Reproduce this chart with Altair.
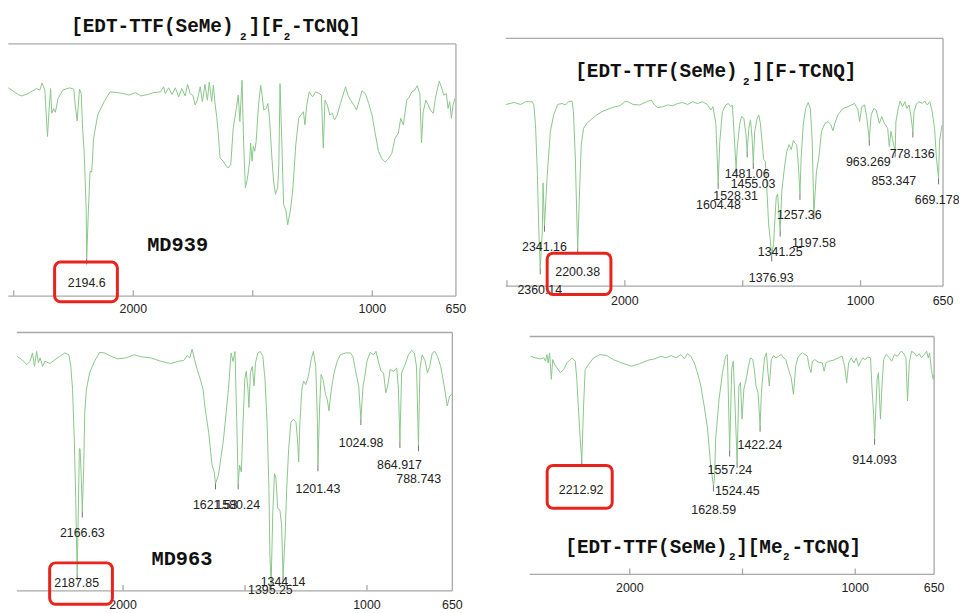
import altair as alt
import pandas as pd

GREEN = "#8ac68a"
FRAME = "#a8a8a8"
TEXT = "#222222"
RED = "#e8231c"
MARK = "#707070"

# ---------------- Panel 1 : [EDT-TTF(SeMe)2][F2-TCNQ]  (MD939)
P1_WN = [2523, 2481, 2467, 2440, 2405, 2391, 2382, 2370, 2359, 2353,
         2346, 2341, 2333, 2326, 2315, 2295, 2267, 2249, 2243, 2235,
         2225, 2218, 2212, 2205, 2197, 2195, 2188, 2181, 2174, 2166,
         2149, 2122, 2097, 2066, 2039, 2018, 1990, 1969, 1942, 1914,
         1886, 1873, 1866, 1852, 1838, 1824, 1810, 1797, 1783, 1773,
         1762, 1751, 1741, 1732, 1720, 1711, 1700, 1690, 1682, 1672,
         1665, 1658, 1651, 1644, 1637, 1624, 1610, 1603, 1592, 1582,
         1569, 1561, 1554, 1545, 1538, 1531, 1523, 1513, 1509, 1503,
         1498, 1492, 1486, 1476, 1467, 1461, 1454, 1444, 1437, 1430,
         1420, 1413, 1405, 1396, 1391, 1386, 1379, 1371, 1361, 1354,
         1343, 1333, 1320, 1308, 1299, 1288, 1282, 1274, 1264, 1250,
         1237, 1222, 1213, 1205, 1198, 1188, 1178, 1167, 1158, 1147,
         1133, 1112, 1102, 1091, 1077, 1066, 1056, 1043, 1029, 1015,
         1001, 988, 974, 960, 946, 932, 918, 905, 891, 881,
         870, 856, 845, 835, 822, 812, 801, 794, 787, 776,
         766, 757, 745, 735, 720, 711, 701, 690, 683, 676,
         669, 662, 654]
P1_T = [82.6, 79.9, 79.4, 80.3, 82.3, 81.7, 84.5, 81.7, 63.3, 73.1,
        82.3, 72.5, 74.4, 72.9, 78.4, 81.7, 82.6, 82.1, 75.8, 69.5,
        82.1, 80.3, 66.6, 56.1, 33.8, 14.9, 33.8, 49.5, 49.2, 62.6,
        71.8, 77.1, 81.0, 80.7, 80.3, 79.7, 80.7, 79.4, 79.9, 80.7,
        81.0, 83.0, 80.3, 82.6, 79.9, 82.6, 79.0, 82.3, 79.4, 83.9,
        80.3, 79.7, 75.8, 77.7, 83.0, 77.1, 83.9, 77.7, 84.9, 77.1,
        83.6, 76.4, 71.2, 64.0, 54.8, 53.5, 51.5, 50.8, 52.2, 66.6,
        74.4, 79.7, 69.2, 85.6, 60.0, 43.0, 46.3, 53.5, 60.7, 53.5,
        59.4, 57.4, 61.3, 75.8, 83.6, 79.7, 73.8, 74.4, 76.4, 70.5,
        54.8, 45.6, 40.4, 43.0, 52.2, 84.3, 62.6, 36.4, 33.8, 28.3,
        33.8, 41.7, 60.0, 70.5, 71.8, 73.1, 67.9, 75.8, 81.0, 79.0,
        81.0, 80.3, 79.7, 58.7, 77.7, 75.8, 71.8, 72.5, 69.9, 71.8,
        76.4, 83.0, 79.7, 77.7, 75.8, 73.8, 77.1, 81.4, 80.3, 76.4,
        71.8, 64.6, 57.4, 54.5, 53.2, 54.5, 56.7, 62.6, 64.6, 70.5,
        67.9, 77.7, 79.0, 81.0, 81.7, 83.4, 80.3, 60.7, 73.1, 77.7,
        75.8, 73.8, 72.5, 79.0, 85.2, 83.0, 79.7, 80.3, 74.4, 77.1,
        70.5, 75.8, 78.4]
P1_LABELS = ["2194.6"]
P1_LABEL_WN = [2195]
P1_LABEL_T = [3.7]
P1_PEAK_WN = [2195]
P1_PEAK_T = [14.9]

# ---------------- Panel 2 : [EDT-TTF(SeMe)2][F-TCNQ]
P2_WN = [2505, 2470, 2442, 2421, 2393, 2386, 2379, 2371, 2365, 2359,
         2350, 2347, 2341, 2329, 2316, 2302, 2285, 2266, 2252, 2239,
         2224, 2218, 2210, 2203, 2200, 2192, 2185, 2175, 2161, 2140,
         2119, 2091, 2063, 2042, 2021, 2000, 1986, 1965, 1937, 1909,
         1888, 1874, 1860, 1839, 1818, 1797, 1776, 1755, 1734, 1713,
         1692, 1671, 1650, 1635, 1626, 1614, 1608, 1604, 1597, 1586,
         1572, 1561, 1551, 1544, 1537, 1528, 1523, 1513, 1505, 1495,
         1486, 1481, 1474, 1467, 1460, 1455, 1449, 1439, 1432, 1425,
         1418, 1411, 1404, 1397, 1390, 1384, 1377, 1369, 1358, 1352,
         1341, 1334, 1323, 1313, 1303, 1294, 1285, 1278, 1271, 1264,
         1257, 1252, 1243, 1233, 1222, 1213, 1205, 1198, 1187, 1177,
         1166, 1151, 1138, 1126, 1117, 1109, 1096, 1075, 1053, 1040,
         1025, 1011, 1004, 995, 983, 974, 963, 955, 944, 934,
         920, 910, 899, 885, 878, 871, 864, 853, 850, 840,
         832, 822, 812, 804, 794, 787, 778, 773, 762, 752,
         738, 728, 717, 706, 696, 686, 678, 669, 665, 654]
P2_T = [73.3, 74.1, 73.3, 74.4, 74.4, 73.1, 65.1, 45.1, 22.4, 7.2,
        22.4, 41.7, 24.4, 45.1, 62.4, 69.1, 73.3, 73.7, 73.1, 74.4,
        74.7, 70.4, 51.7, 25.1, 15.1, 38.4, 57.1, 63.7, 65.7, 67.5,
        69.1, 70.7, 71.7, 72.4, 72.8, 74.4, 74.4, 73.3, 73.1, 74.4,
        75.1, 73.1, 72.0, 72.4, 73.1, 72.8, 73.7, 74.1, 73.3, 74.4,
        73.7, 74.4, 73.3, 71.1, 72.4, 65.7, 51.7, 41.7, 58.4, 70.4,
        73.1, 73.7, 72.4, 73.1, 62.4, 47.7, 55.7, 65.1, 68.4, 67.7,
        61.1, 54.4, 63.7, 67.1, 59.7, 49.7, 62.4, 67.7, 69.1, 65.7,
        58.4, 51.1, 50.4, 38.4, 25.1, 19.7, 12.4, 17.2, 35.7, 37.2,
        22.4, 38.4, 47.7, 54.4, 57.1, 55.1, 58.7, 57.7, 57.1, 49.1,
        37.2, 51.7, 65.1, 71.7, 74.1, 71.7, 58.4, 29.2, 46.4, 51.7,
        62.4, 65.7, 66.4, 65.1, 62.7, 65.7, 69.1, 71.7, 72.4, 73.1,
        73.7, 71.1, 66.4, 72.4, 73.1, 68.4, 59.1, 69.1, 71.7, 71.1,
        65.7, 68.4, 65.7, 63.7, 56.4, 62.4, 59.1, 54.4, 66.4, 71.7,
        74.7, 72.4, 74.4, 71.7, 73.1, 69.1, 62.4, 70.4, 73.7, 74.4,
        73.7, 74.7, 73.1, 74.4, 70.4, 63.7, 51.7, 43.5, 58.4, 65.1]
P2_LABELS = ["2341.16", "2200.38", "2360.14", "1604.48", "1528.31", "1481.06",
             "1455.03", "1257.36", "1341.25", "1197.58", "1376.93", "963.269",
             "778.136", "853.347", "669.178"]
P2_LABEL_WN = [2341, 2200, 2361, 1603, 1530, 1481, 1456, 1260, 1341, 1198,
               1379, 967, 781, 859, 675]
P2_LABEL_T = [14.4, 4.1, -3.2, 31.3, 34.8, 43.7, 39.5, 27.1, 12.1, 16.0,
              1.7, 48.4, 51.7, 40.8, 33.3]
P2_PEAK_WN = [2359, 2341, 2200, 1604, 1528, 1481, 1455, 1377, 1341, 1257,
              1198, 963, 853, 778, 669]
P2_PEAK_T = [7.2, 24.4, 15.1, 41.7, 47.7, 54.4, 49.7, 12.4, 22.4, 37.2,
             29.2, 59.1, 54.4, 62.4, 43.5]

# ---------------- Panel 3 : MD963
P3_WN = [2435, 2415, 2394, 2381, 2371, 2363, 2354, 2347, 2340, 2330,
         2320, 2300, 2279, 2259, 2239, 2222, 2214, 2207, 2200, 2194,
         2188, 2183, 2179, 2176, 2171, 2167, 2161, 2157, 2150, 2137,
         2117, 2096, 2076, 2049, 2022, 1988, 1954, 1927, 1886, 1846,
         1805, 1771, 1751, 1737, 1726, 1717, 1707, 1696, 1683, 1672,
         1663, 1649, 1635, 1626, 1621, 1609, 1588, 1568, 1557, 1549,
         1541, 1534, 1528, 1522, 1515, 1508, 1501, 1495, 1488, 1484,
         1478, 1470, 1463, 1457, 1447, 1438, 1427, 1418, 1409, 1402,
         1398, 1393, 1386, 1379, 1373, 1366, 1357, 1350, 1344, 1336,
         1329, 1321, 1312, 1302, 1291, 1285, 1280, 1275, 1267, 1260,
         1251, 1240, 1229, 1220, 1210, 1203, 1201, 1194, 1188, 1180,
         1170, 1163, 1156, 1146, 1135, 1122, 1109, 1088, 1068, 1058,
         1045, 1034, 1025, 1016, 1009, 1000, 987, 973, 963, 952,
         942, 932, 923, 915, 905, 891, 878, 871, 865, 858,
         844, 830, 817, 806, 797, 789, 783, 774, 763, 752,
         743, 732, 722, 711, 698, 688, 679, 671, 661, 652]
P3_T = [90.8, 89.5, 87.6, 88.9, 92.1, 86.9, 92.7, 88.3, 90.2, 86.9,
        88.9, 88.0, 89.5, 90.8, 92.1, 91.4, 86.9, 78.0, 58.8, 35.8,
        6.3, 33.2, 55.0, 55.0, 43.5, 30.7, 48.6, 69.1, 78.0, 84.4,
        88.9, 92.3, 92.1, 90.8, 89.8, 90.2, 91.4, 90.6, 90.2, 88.9,
        88.0, 88.9, 89.2, 91.1, 90.2, 93.6, 89.5, 85.7, 81.8, 78.0,
        70.3, 61.4, 48.6, 46.0, 41.6, 44.7, 58.8, 78.0, 92.1, 88.8,
        92.6, 66.5, 41.6, 48.6, 46.0, 65.2, 81.8, 85.0, 78.0, 71.0,
        84.4, 86.9, 79.3, 88.3, 92.1, 92.7, 90.8, 81.8, 63.9, 39.6,
        14.0, 2.4, 30.7, 45.4, 43.5, 32.0, 31.3, 25.6, 5.8, 20.5,
        39.6, 55.0, 65.2, 66.5, 65.2, 58.8, 49.9, 65.2, 78.0, 81.2,
        79.9, 83.1, 89.5, 92.7, 86.9, 65.2, 48.6, 71.6, 83.8, 81.8,
        76.1, 74.2, 69.7, 78.0, 84.4, 88.9, 91.4, 92.1, 92.1, 90.8,
        84.4, 79.3, 66.5, 79.3, 83.1, 88.9, 92.3, 91.4, 92.7, 88.3,
        85.0, 84.4, 76.7, 79.3, 85.7, 85.0, 86.3, 78.0, 57.6, 84.4,
        87.6, 91.4, 93.1, 92.1, 86.9, 56.3, 85.7, 91.4, 89.5, 84.4,
        86.9, 92.1, 92.7, 90.8, 86.9, 81.8, 76.7, 71.6, 75.4, 76.1]
P3_LABELS = ["2166.63", "2187.85", "1621.53", "1580.24", "1344.14", "1395.25",
             "1201.43", "1024.98", "864.917", "788.743"]
P3_LABEL_WN = [2167, 2190, 1622, 1530, 1344, 1396, 1201, 1024, 867, 788]
P3_LABEL_T = [20.8, 1.5, 31.6, 31.6, 1.9, -1.3, 38.0, 55.6, 47.3, 41.6]
P3_PEAK_WN = [2188, 2167, 1621, 1528, 1393, 1344, 1201, 1025, 865, 789]
P3_PEAK_T = [6.3, 30.7, 41.6, 41.6, 2.4, 5.8, 48.6, 66.5, 57.6, 56.3]

# ---------------- Panel 4 : [EDT-TTF(SeMe)2][Me2-TCNQ]
P4_WN = [2440, 2418, 2396, 2381, 2374, 2368, 2362, 2356, 2348, 2342,
         2333, 2323, 2308, 2293, 2279, 2257, 2242, 2235, 2227, 2220,
         2213, 2205, 2198, 2183, 2161, 2132, 2102, 2073, 2036, 1993,
         1956, 1920, 1890, 1861, 1839, 1817, 1795, 1773, 1758, 1744,
         1729, 1714, 1702, 1692, 1685, 1670, 1655, 1641, 1629, 1624,
         1619, 1604, 1589, 1575, 1567, 1557, 1548, 1541, 1534, 1524,
         1516, 1509, 1502, 1494, 1484, 1472, 1465, 1454, 1446, 1440,
         1431, 1422, 1416, 1409, 1402, 1394, 1387, 1381, 1372, 1362,
         1352, 1340, 1328, 1318, 1308, 1296, 1284, 1274, 1264, 1255,
         1245, 1234, 1223, 1212, 1205, 1196, 1190, 1179, 1164, 1146,
         1138, 1130, 1117, 1098, 1076, 1058, 1047, 1038, 1029, 1018,
         1006, 995, 985, 976, 966, 956, 944, 932, 926, 918,
         914, 903, 897, 888, 882, 874, 863, 848, 838, 826,
         812, 797, 786, 775, 768, 760, 750, 738, 727, 716,
         706, 694, 683, 676, 670, 662, 654, 650]
P4_T = [91.7, 91.0, 90.6, 91.0, 89.6, 92.4, 88.9, 93.1, 82.0, 90.3,
        88.2, 86.8, 84.8, 86.1, 88.9, 91.0, 89.6, 82.0, 68.1, 57.0,
        47.9, 70.8, 86.1, 88.2, 91.0, 92.4, 92.0, 90.3, 88.9, 87.5,
        88.6, 90.0, 90.6, 91.7, 91.0, 92.0, 91.0, 92.4, 90.6, 92.8,
        91.7, 88.9, 85.4, 82.0, 79.2, 70.8, 61.1, 45.8, 37.4, 40.3,
        57.0, 73.6, 84.8, 91.7, 92.4, 52.1, 86.1, 89.6, 73.6, 47.3,
        79.2, 80.6, 65.3, 77.8, 82.0, 88.2, 91.0, 90.3, 84.8, 79.2,
        76.4, 62.5, 76.4, 84.8, 91.0, 93.1, 84.8, 79.2, 90.3, 92.0,
        91.0, 91.7, 92.4, 91.0, 90.3, 86.1, 82.7, 75.7, 87.5, 91.0,
        92.4, 93.1, 92.4, 91.7, 87.5, 84.8, 89.6, 90.3, 89.2, 88.9,
        85.4, 88.9, 89.6, 90.0, 91.0, 91.7, 87.5, 80.6, 88.9, 91.0,
        88.9, 91.0, 87.5, 89.6, 91.0, 90.3, 91.4, 91.0, 79.2, 66.7,
        57.0, 82.0, 84.8, 65.3, 77.8, 90.3, 92.4, 91.0, 89.6, 92.4,
        91.7, 93.8, 93.1, 91.0, 72.9, 88.9, 93.8, 93.1, 91.7, 92.8,
        91.0, 92.4, 93.8, 91.0, 93.1, 86.1, 82.0, 84.0]
P4_LABELS = ["2212.92", "1557.24", "1524.45", "1628.59", "1422.24", "914.093"]
P4_LABEL_WN = [2216, 1556, 1523, 1628, 1423, 914]
P4_LABEL_T = [34.0, 42.1, 33.3, 25.4, 52.8, 46.5]
P4_PEAK_WN = [2213, 1629, 1557, 1524, 1422, 914]
P4_PEAK_T = [47.9, 37.4, 52.1, 47.3, 62.5, 57.0]

# axis ticks / labels
TICKS_WIDE = [2500, 2000, 1500, 1000]
TICKS_NARROW = [2000, 1500, 1000]
TICK_LABELS = [2000, 1000, 650]

# titles (text pieces: main, subscript, main, subscript, main)
TITLE1 = ["[EDT-TTF(SeMe)", "2", "][F", "2", "-TCNQ]"]
TITLE2 = ["[EDT-TTF(SeMe)", "2", "][F-TCNQ]"]
TITLE3 = ["[EDT-TTF(SeMe)", "2", "][Me", "2", "-TCNQ]"]
SAMPLES = ["MD939", "MD963"]

panels = [
    dict(wn=P1_WN, t=P1_T, lab=P1_LABELS, lwn=P1_LABEL_WN, lt=P1_LABEL_T,
         pwn=P1_PEAK_WN, pt=P1_PEAK_T, dom=[2523, 650], xr=[0.3, 451.7],
         yr=[288, 33.7], ticks=TICKS_WIDE, tdy=17),
    dict(wn=P2_WN, t=P2_T, lab=P2_LABELS, lwn=P2_LABEL_WN, lt=P2_LABEL_T,
         pwn=P2_PEAK_WN, pt=P2_PEAK_T, dom=[2505, 650], xr=[502.0, 942.9],
         yr=[278, 28], ticks=TICKS_WIDE, tdy=19),
    dict(wn=P3_WN, t=P3_T, lab=P3_LABELS, lwn=P3_LABEL_WN, lt=P3_LABEL_T,
         pwn=P3_PEAK_WN, pt=P3_PEAK_T, dom=[2435, 650], xr=[9.0, 448.1],
         yr=[585.3, 324.7], ticks=TICKS_NARROW, tdy=18),
    dict(wn=P4_WN, t=P4_T, lab=P4_LABELS, lwn=P4_LABEL_WN, lt=P4_LABEL_T,
         pwn=P4_PEAK_WN, pt=P4_PEAK_T, dom=[2444, 650], xr=[526.1, 933.9],
         yr=[568.7, 328.7], ticks=TICKS_NARROW, tdy=18),
]


def panel_layers(p):
    xs = alt.Scale(domain=p["dom"], range=p["xr"], nice=False, zero=False)
    ys = alt.Scale(domain=[0, 100], range=p["yr"], nice=False, zero=False)
    span = p["yr"][0] - p["yr"][1]
    tk = 6 / span * 100

    def ex(f):
        return alt.X(f"{f}:Q", scale=xs, axis=None)

    def ey(f):
        return alt.Y(f"{f}:Q", scale=ys, axis=None)

    spec = pd.DataFrame({"wn": p["wn"], "t": p["t"], "i": list(range(len(p["wn"])))})
    line = alt.Chart(spec).mark_line(color=GREEN, strokeWidth=1).encode(
        x=ex("wn"), y=ey("t"), order="i:Q")

    left = p["dom"][0]
    frame = pd.DataFrame({"x": [left, 650, left], "x2": [650, 650, 650],
                          "y": [100, 0, 0], "y2": [100, 100, 0]})
    fr = alt.Chart(frame).mark_rule(color=FRAME, strokeWidth=1.3).encode(
        x=ex("x"), x2="x2:Q", y=ey("y"), y2="y2:Q")

    tdf = pd.DataFrame({"x": p["ticks"], "y": [0] * len(p["ticks"]),
                        "y2": [tk] * len(p["ticks"])})
    ticks = alt.Chart(tdf).mark_rule(color=FRAME, strokeWidth=1.3).encode(
        x=ex("x"), y=ey("y"), y2="y2:Q")

    ldf = pd.DataFrame({"x": TICK_LABELS, "y": [0] * 3,
                        "s": [str(v) for v in TICK_LABELS]})
    tlabels = alt.Chart(ldf).mark_text(
        font="Liberation Sans", fontSize=12.5, color=TEXT, align="center",
        baseline="alphabetic", dy=p["tdy"]).encode(x=ex("x"), y=ey("y"), text="s:N")

    mdf = pd.DataFrame({"x": p["pwn"], "y": p["pt"],
                        "y2": [v - tk for v in p["pt"]]})
    marks = alt.Chart(mdf).mark_rule(color=MARK, strokeWidth=1).encode(
        x=ex("x"), y=ey("y"), y2="y2:Q")

    pdf = pd.DataFrame({"x": p["lwn"], "y": p["lt"], "s": p["lab"]})
    plabels = alt.Chart(pdf).mark_text(
        font="Liberation Sans", fontSize=12.5, color=TEXT, align="center",
        baseline="alphabetic").encode(x=ex("x"), y=ey("y"), text="s:N")

    return [fr, ticks, tlabels, line, marks, plabels]


dummy = pd.DataFrame({"a": [0]})


def txt(s, x, y, size, bold=True, font="Liberation Mono"):
    return alt.Chart(dummy).mark_text(
        font=font, fontSize=size, fontWeight="bold" if bold else "normal",
        color="#111111", align="left", baseline="alphabetic").encode(
        x=alt.value(x), y=alt.value(y), text=alt.value(s))


def box(x, x2, y, y2):
    return alt.Chart(dummy).mark_rect(
        filled=False, stroke=RED, strokeWidth=3, cornerRadius=6).encode(
        x=alt.value(x), x2=alt.value(x2), y=alt.value(y), y2=alt.value(y2))


TS = 19.5
SS = 11
annotations = [
    # title 1 (top-left)
    txt(TITLE1[0], 63.7, 22, TS), txt(TITLE1[1], 234.0, 29.3, SS),
    txt(TITLE1[2], 242.7, 22, TS), txt(TITLE1[3], 278.0, 29.3, SS),
    txt(TITLE1[4], 285.3, 22, TS),
    # title 2 (top-right)
    txt(TITLE2[0], 572.0, 67, TS), txt(TITLE2[1], 741.3, 74.7, SS),
    txt(TITLE2[2], 750.3, 67, TS),
    # title 3 (bottom-right)
    txt(TITLE3[0], 562.0, 547, TS), txt(TITLE3[1], 727.0, 554.5, SS),
    txt(TITLE3[2], 734.3, 547, TS), txt(TITLE3[3], 781.5, 554.5, SS),
    txt(TITLE3[4], 790.0, 547, TS),
    # sample codes
    txt(SAMPLES[0], 140.3, 242, 20.5), txt(SAMPLES[1], 144.7, 558.7, 20.5),
    # red highlight boxes
    box(47, 110.3, 253.7, 293.7),
    box(543.7, 608, 244.7, 286.3),
    box(42, 105.3, 557, 598.7),
    box(543.7, 609.3, 458.7, 502),
]

layers = []
for p in panels:
    layers.extend(panel_layers(p))
layers.extend(annotations)

chart = alt.layer(*layers).resolve_scale(
    x="independent", y="independent"
).properties(
    width=959, height=605, padding=0,
    autosize=alt.AutoSizeParams(type="none"),
).configure_view(strokeWidth=0)

chart.save("out.html", embed_options={"renderer": "svg", "actions": False})
